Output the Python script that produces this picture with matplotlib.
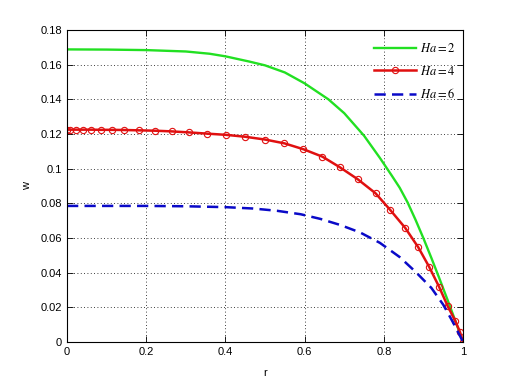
import matplotlib
matplotlib.use("Agg")
import matplotlib.pyplot as plt
from matplotlib.ticker import FormatStrFormatter

plt.rcParams["font.family"] = ["Liberation Sans", "DejaVu Sans"]
plt.rcParams["mathtext.fontset"] = "stix"

# Ha = 2 (green, solid)
r_g = [0, 0.1, 0.2, 0.25, 0.3, 0.36, 0.4, 0.46, 0.5, 0.55, 0.6, 0.66, 0.7,
       0.75, 0.79, 0.82, 0.84, 0.86, 0.88, 0.90, 0.92, 0.94, 0.96, 0.98, 1.0]
w_g = [0.1688, 0.1687, 0.1684, 0.1680, 0.1676, 0.1663, 0.1648, 0.1618,
       0.1596, 0.1555, 0.1492, 0.1400, 0.1320, 0.1190, 0.1062, 0.0960,
       0.0890, 0.0805, 0.0705, 0.0598, 0.0485, 0.0368, 0.0248, 0.0125, 0.0]

# Ha = 4 (red, solid with circles)
r_r = [0, 0.008, 0.023, 0.040, 0.060, 0.085, 0.113, 0.145, 0.183, 0.222,
       0.264, 0.309, 0.354, 0.402, 0.450, 0.500, 0.549, 0.597, 0.645, 0.689,
       0.734, 0.779, 0.816, 0.854, 0.887, 0.915, 0.940, 0.961, 0.980, 0.992,
       1.0]
w_r = [0.1225, 0.1225, 0.1225, 0.1225, 0.1225, 0.1224, 0.1224, 0.1223,
       0.1221, 0.1219, 0.1215, 0.1209, 0.1202, 0.1195, 0.1184, 0.1168,
       0.1146, 0.1112, 0.1069, 0.1008, 0.0939, 0.0858, 0.0762, 0.0658,
       0.0546, 0.0431, 0.0316, 0.0208, 0.0123, 0.0059, 0.0]

# Ha = 6 (blue, dashed)
r_b = [0, 0.1, 0.2, 0.3, 0.4, 0.47, 0.53, 0.59, 0.64, 0.69, 0.74, 0.79,
       0.84, 0.88, 0.92, 0.95, 0.975, 1.0]
w_b = [0.0785, 0.0785, 0.0785, 0.0783, 0.0778, 0.0770, 0.0757, 0.0737,
       0.0710, 0.0675, 0.0632, 0.0572, 0.0490, 0.0405, 0.0312, 0.0215,
       0.0112, 0.0]

labels = ["$Ha=2$", "$Ha=4$", "$Ha=6$"]
x_ticks = [0, 0.2, 0.4, 0.6, 0.8, 1.0]
y_ticks = [0, 0.02, 0.04, 0.06, 0.08, 0.1, 0.12, 0.14, 0.16, 0.18]

fig = plt.figure(figsize=(5.12, 3.84), dpi=100)
ax = fig.add_axes([0.1309, 0.1094, 0.7735, 0.8125])

ax.plot(r_g, w_g, color="#22e022", linewidth=1.7, label=labels[0])
ax.plot(r_r, w_r, color="#e01010", linewidth=1.8, marker="o",
        markersize=4.5, markerfacecolor="none", markeredgewidth=0.8,
        label=labels[1])
ax.plot(r_b, w_b, color="#0a0ac8", linewidth=1.8, linestyle=(0, (4.5, 2.5)),
        label=labels[2])

ax.set_xlim(0, 1)
ax.set_ylim(0, 0.18)
ax.set_xticks(x_ticks)
ax.set_yticks(y_ticks)
ax.xaxis.set_major_formatter(FormatStrFormatter("%g"))
ax.yaxis.set_major_formatter(FormatStrFormatter("%g"))
ax.tick_params(direction="in", length=4, width=0.6, labelsize=8,
               top=True, right=True, colors="black")
for s in ax.spines.values():
    s.set_linewidth(0.8)
ax.grid(True, linestyle=(0, (1, 3)), color="black", linewidth=0.6)

ax.set_xlabel("r", fontsize=8, labelpad=8)
ax.set_ylabel("w", fontsize=8, labelpad=6)

ax.legend(loc="upper right", bbox_to_anchor=(1.0, 0.985), frameon=False,
          fontsize=9, handlelength=3.3, handletextpad=0.35,
          labelspacing=0.75, borderaxespad=0.2)

fig.savefig("out.png", dpi=100)
